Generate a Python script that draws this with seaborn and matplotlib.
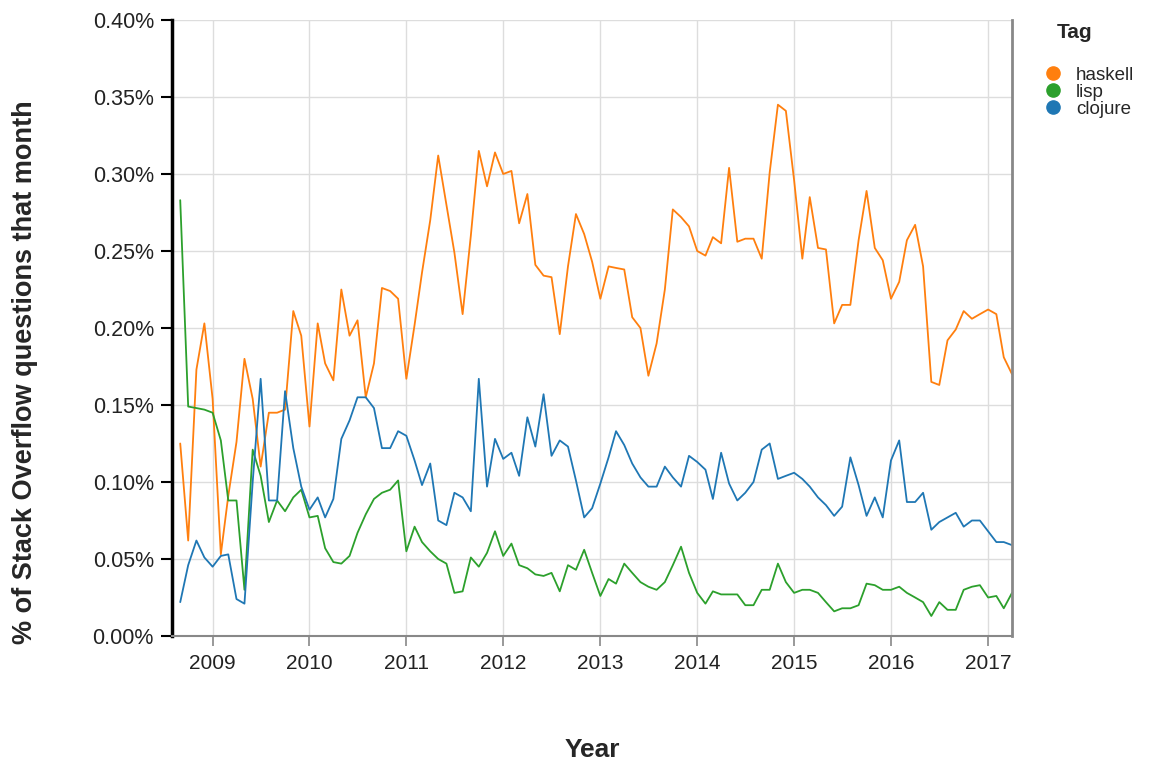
import pandas as pd
import matplotlib
matplotlib.use("Agg")
import matplotlib.pyplot as plt
import matplotlib.dates as mdates
from matplotlib.lines import Line2D
from matplotlib.ticker import FuncFormatter
import seaborn as sns

# share of Stack Overflow questions per month (%), Sep 2008 .. Apr 2017
start_month = "2008-09-01"

haskell = [0.125, 0.062, 0.173, 0.203, 0.154, 0.053, 0.091, 0.126, 0.180, 0.154,
           0.110, 0.145, 0.145, 0.147, 0.211, 0.195, 0.136, 0.203, 0.177, 0.166,
           0.225, 0.195, 0.205, 0.155, 0.177, 0.226, 0.224, 0.219, 0.167, 0.202,
           0.236, 0.270, 0.312, 0.280, 0.249, 0.209, 0.260, 0.315, 0.292, 0.314,
           0.300, 0.302, 0.268, 0.287, 0.241, 0.234, 0.233, 0.196, 0.240, 0.274,
           0.261, 0.243, 0.219, 0.240, 0.239, 0.238, 0.207, 0.200, 0.169, 0.190,
           0.225, 0.277, 0.272, 0.266, 0.250, 0.247, 0.259, 0.255, 0.304, 0.256,
           0.258, 0.258, 0.245, 0.301, 0.345, 0.341, 0.296, 0.245, 0.285, 0.252,
           0.251, 0.203, 0.215, 0.215, 0.257, 0.289, 0.252, 0.244, 0.219, 0.230,
           0.257, 0.267, 0.240, 0.165, 0.163, 0.192, 0.199, 0.211, 0.206, 0.209,
           0.212, 0.209, 0.181, 0.170]

lisp = [0.283, 0.149, 0.148, 0.147, 0.145, 0.127, 0.088, 0.088, 0.030, 0.121,
        0.104, 0.074, 0.088, 0.081, 0.090, 0.095, 0.077, 0.078, 0.057, 0.048,
        0.047, 0.052, 0.067, 0.079, 0.089, 0.093, 0.095, 0.101, 0.055, 0.071,
        0.061, 0.055, 0.050, 0.047, 0.028, 0.029, 0.051, 0.045, 0.054, 0.068,
        0.052, 0.060, 0.046, 0.044, 0.040, 0.039, 0.041, 0.029, 0.046, 0.043,
        0.056, 0.041, 0.026, 0.037, 0.034, 0.047, 0.041, 0.035, 0.032, 0.030,
        0.035, 0.046, 0.058, 0.041, 0.028, 0.021, 0.029, 0.027, 0.027, 0.027,
        0.020, 0.020, 0.030, 0.030, 0.047, 0.035, 0.028, 0.030, 0.030, 0.028,
        0.022, 0.016, 0.018, 0.018, 0.020, 0.034, 0.033, 0.030, 0.030, 0.032,
        0.028, 0.025, 0.022, 0.013, 0.022, 0.017, 0.017, 0.030, 0.032, 0.033,
        0.025, 0.026, 0.018, 0.028]

clojure = [0.022, 0.046, 0.062, 0.051, 0.045, 0.052, 0.053, 0.024, 0.021, 0.100,
           0.167, 0.088, 0.088, 0.159, 0.122, 0.097, 0.082, 0.090, 0.077, 0.089,
           0.128, 0.140, 0.155, 0.155, 0.148, 0.122, 0.122, 0.133, 0.130, 0.114,
           0.098, 0.112, 0.075, 0.072, 0.093, 0.090, 0.081, 0.167, 0.097, 0.128,
           0.115, 0.119, 0.104, 0.142, 0.123, 0.157, 0.117, 0.127, 0.123, 0.101,
           0.077, 0.083, 0.099, 0.116, 0.133, 0.124, 0.112, 0.103, 0.097, 0.097,
           0.110, 0.103, 0.097, 0.117, 0.113, 0.108, 0.089, 0.119, 0.099, 0.088,
           0.093, 0.100, 0.121, 0.125, 0.102, 0.104, 0.106, 0.102, 0.097, 0.090,
           0.085, 0.078, 0.084, 0.116, 0.098, 0.078, 0.090, 0.077, 0.114, 0.127,
           0.087, 0.087, 0.093, 0.069, 0.074, 0.077, 0.080, 0.071, 0.075, 0.075,
           0.068, 0.061, 0.061, 0.059]

tags = ["haskell", "lisp", "clojure"]
tag_colors = ["#ff7f0e", "#2ca02c", "#1f77b4"]
y_ticks = [0.00, 0.05, 0.10, 0.15, 0.20, 0.25, 0.30, 0.35, 0.40]


def build_frame():
    """
    Long-form table: one row per month and tag
    """
    months = pd.date_range(start_month, periods=len(haskell), freq="MS")
    parts = []
    for tag, values in zip(tags, [haskell, lisp, clojure]):
        parts.append(pd.DataFrame({"month": months, "pct": values, "tag": tag}))
    return pd.concat(parts, ignore_index=True)


def main():
    df = build_frame()

    sns.set_theme(style="whitegrid")
    plt.rcParams["font.family"] = ["Liberation Sans", "DejaVu Sans"]

    fig = plt.figure(figsize=(11.65, 7.65), dpi=100)
    ax = fig.add_axes([172 / 1165, 1 - 636 / 765, 840 / 1165, 616 / 765])

    sns.lineplot(data=df, x="month", y="pct", hue="tag", hue_order=tags,
                 palette=dict(zip(tags, tag_colors)), linewidth=1.3,
                 legend=False, ax=ax)

    # axes range and ticks
    ax.set_xlim(pd.Timestamp("2008-08-01"), pd.Timestamp("2017-04-01"))
    ax.set_ylim(0, 0.40)
    ax.set_yticks(y_ticks)
    ax.yaxis.set_major_formatter(FuncFormatter(lambda v, _: f"{v:.2f}%"))
    ax.xaxis.set_major_locator(mdates.YearLocator())
    ax.xaxis.set_major_formatter(mdates.DateFormatter("%Y"))

    ax.grid(True, color="#dddddd", linewidth=1)
    ax.set_axisbelow(True)
    ax.set_facecolor("white")

    ax.spines["left"].set_color("black")
    ax.spines["left"].set_linewidth(2.5)
    ax.spines["bottom"].set_color("#888888")
    ax.spines["bottom"].set_linewidth(1.5)
    ax.spines["right"].set_visible(True)
    ax.spines["right"].set_color("#888888")
    ax.spines["right"].set_linewidth(2)
    ax.spines["top"].set_visible(False)

    ax.tick_params(axis="y", which="major", left=True, length=8, width=1.5,
                   color="black", labelsize=15.5, labelcolor="#222222", pad=5)
    ax.tick_params(axis="x", which="major", bottom=True, length=7, width=1.2,
                   color="#888888", labelsize=15, labelcolor="#222222", pad=6)

    ax.set_xlabel("Year", fontsize=19, fontweight="bold")
    ax.set_ylabel("% of Stack Overflow questions that month", fontsize=19.5, fontweight="bold")
    ax.xaxis.set_label_coords(0.5, -0.166)
    ax.yaxis.set_label_coords(-0.160, 0.428)

    # legend: title as separate text, entries as dot symbols
    fig.text(1057 / 1165, 1 - 33 / 765, "Tag", fontsize=15, fontweight="bold",
             ha="left", va="center")
    handles = [Line2D([], [], marker="o", linestyle="", markersize=9.5, color=c)
               for c in tag_colors]
    fig.legend(handles, tags, loc="upper left",
               bbox_to_anchor=(1034 / 1165, 1 - 57 / 765), frameon=False,
               fontsize=13.5, handletextpad=0.75, labelspacing=0.0, borderpad=0,
               handlelength=1.0)

    fig.savefig("out.png", dpi=100)
    plt.close(fig)


if __name__ == "__main__":
    main()
